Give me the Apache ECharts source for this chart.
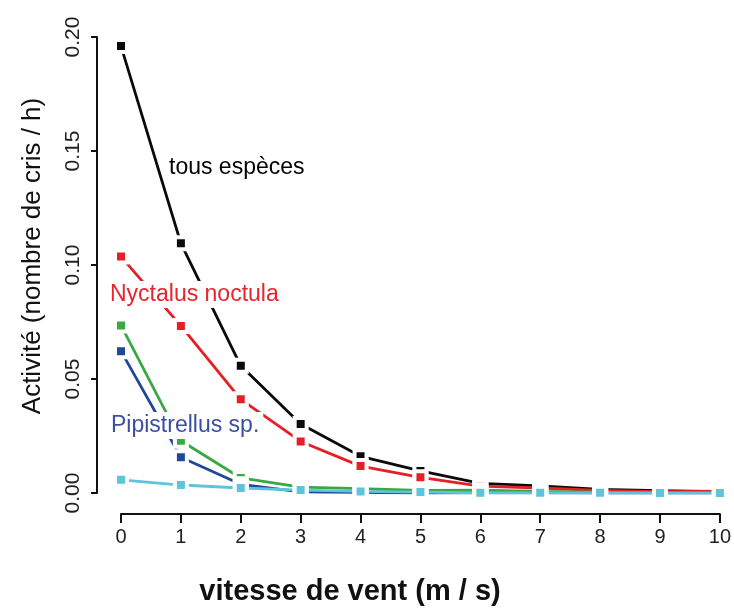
<!DOCTYPE html>
<html>
<head>
<meta charset="utf-8">
<script src="https://cdn.jsdelivr.net/npm/echarts@6/dist/echarts.min.js"></script>
<style>
html,body{margin:0;padding:0;background:#fff;}
#chart{width:734px;height:608px;}
</style>
</head>
<body>
<div id="chart"></div>
<script>
// Wind speed categories (m/s)
const windSpeed = [0, 1, 2, 3, 4, 5, 6, 7, 8, 9, 10];
// Activity values (calls / h)
const tousEspeces = [0.1960, 0.1095, 0.0558, 0.0303, 0.0161, 0.0097, 0.0042, 0.0031, 0.0016, 0.0010, 0.0006];
const nyctalusNoctula = [0.1037, 0.0733, 0.0411, 0.0226, 0.0118, 0.0069, 0.0030, 0.0022, 0.0011, 0.0006, 0.0008];
const serieVerte = [0.0735, 0.0229, 0.0066, 0.0026, 0.0019, 0.0011, 0.0012, 0.0007, 0.0004, 0.0003, 0.0002];
const pipistrellusSp = [0.0622, 0.0157, 0.0038, 0.0005, 0.0003, 0.0000, 0.0001, 0.0001, 0.0000, 0.0000, 0.0000];
const serieCyan = [0.0058, 0.0035, 0.0022, 0.0013, 0.0007, 0.0004, 0.0001, 0.0001, 0.0001, 0.0000, 0.0000];
// Axis ticks
const yTicks = [0.00, 0.05, 0.10, 0.15, 0.20];
const xTicks = windSpeed;

const seriesDefs = [
  {name: 'tous espèces', data: tousEspeces, color: '#0a0a0a'},
  {name: 'Nyctalus noctula', data: nyctalusNoctula, color: '#e41f26'},
  {name: 'verte', data: serieVerte, color: '#3aa944'},
  {name: 'Pipistrellus sp.', data: pipistrellusSp, color: '#21479a'},
  {name: 'cyan', data: serieCyan, color: '#5ec4dc'}
];

const chart = echarts.init(document.getElementById('chart'), null, {renderer: 'canvas'});
const font = '"Liberation Sans", Arial, Helvetica, sans-serif';

chart.setOption({
  animation: false,
  backgroundColor: '#ffffff',
  grid: {left: 121, right: 9, top: 37, bottom: 115, containLabel: false},
  xAxis: {
    type: 'value', min: xTicks[0], max: xTicks[xTicks.length - 1], interval: 1,
    offset: 21,
    axisLine: {show: true, onZero: false, lineStyle: {color: '#111', width: 2}},
    axisTick: {show: true, length: 9, lineStyle: {color: '#111', width: 2}},
    axisLabel: {fontFamily: font, fontSize: 20, color: '#222', margin: 13},
    splitLine: {show: false}
  },
  yAxis: {
    type: 'value', min: yTicks[0], max: yTicks[yTicks.length - 1], interval: 0.05,
    offset: 24,
    axisLine: {show: true, onZero: false, lineStyle: {color: '#111', width: 2}},
    axisTick: {show: true, length: 6, lineStyle: {color: '#111', width: 2}},
    axisLabel: {fontFamily: font, fontSize: 21, color: '#222', rotate: 90, margin: 13,
      formatter: v => v.toFixed(2)},
    splitLine: {show: false}
  },
  graphic: [
    {type: 'text', left: 169, top: 168 - 12, z: 100,
      style: {text: 'tous espèces', fill: '#000', font: '23px ' + font}},
    {type: 'text', left: 106, top: 281, z: 100,
      style: {text: 'Nyctalus noctula', fill: '#e8242c', font: '23px ' + font,
        backgroundColor: '#fff', padding: [2, 4, 2, 4]}},
    {type: 'text', left: 107, top: 412, z: 100,
      style: {text: 'Pipistrellus sp.', fill: '#3b4ea3', font: '23px ' + font,
        backgroundColor: '#fff', padding: [2, 4, 2, 4]}},
    {type: 'text', x: 33, y: 256, rotation: Math.PI / 2, z: 100,
      style: {text: 'Activité (nombre de cris / h)', fill: '#111', font: '26px ' + font,
        align: 'center', verticalAlign: 'middle'}},
    {type: 'text', x: 350, y: 592, z: 100,
      style: {text: 'vitesse de vent (m / s)', fill: '#111', font: 'bold 29px ' + font,
        align: 'center', verticalAlign: 'middle'}}
  ],
  series: seriesDefs.map(s => ({
    name: s.name,
    type: 'line',
    data: windSpeed.map((x, i) => [x, s.data[i]]),
    symbol: 'rect',
    symbolSize: 12,
    showSymbol: true,
    lineStyle: {color: s.color, width: 2.8},
    itemStyle: {color: s.color, borderColor: '#fff', borderWidth: 4},
    emphasis: {disabled: true}
  }))
});
</script>
</body>
</html>
